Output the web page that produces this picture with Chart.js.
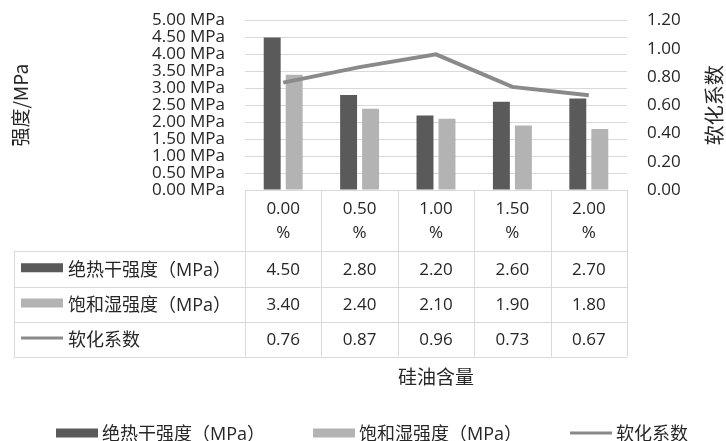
<!DOCTYPE html>
<html>
<head>
<meta charset="utf-8">
<script src="https://cdn.jsdelivr.net/npm/chart.js@4.4.1/dist/chart.umd.min.js"></script>
<style>
  html, body { margin: 0; padding: 0; background: #ffffff; }
  #wrap { width: 726px; height: 441px; }
</style>
</head>
<body>
<div id="wrap"><canvas id="chart" width="726" height="441"></canvas></div>
<script>
// Silicone-oil dosage and the measured strengths / softening coefficient
const categories  = ['0.00%', '0.50%', '1.00%', '1.50%', '2.00%'];
const dryStrength = [4.50, 2.80, 2.20, 2.60, 2.70];
const wetStrength = [3.40, 2.40, 2.10, 1.90, 1.80];
const softening   = [0.76, 0.87, 0.96, 0.73, 0.67];
const seriesNames = ['绝热干强度（MPa）', '饱和湿强度（MPa）', '软化系数'];
const strengthAxis = { min: 0, max: 5, step: 0.5 };
const coefAxis     = { min: 0, max: 1.2, step: 0.2 };
const axisTitles   = { left: '强度/MPa', right: '软化系数', bottom: '硅油含量' };

const TEXT = '#262626';
const GRID = '#d9d9d9';
const LATIN = '"Open Sans", "Noto Sans CJK SC", sans-serif';
const CJK = '"Noto Sans CJK SC", "Open Sans", sans-serif';

function crisp(v) { return Math.round(v) + 0.5; }

function drawKey(ctx, ds, x, y) {
  if (ds.type === 'line') {
    ctx.strokeStyle = ds.borderColor;
    ctx.lineWidth = 3;
    ctx.beginPath();
    ctx.moveTo(x, y);
    ctx.lineTo(x + 42, y);
    ctx.stroke();
  } else {
    ctx.fillStyle = ds.backgroundColor;
    ctx.fillRect(x, y - 4.5, 42, 9);
  }
}

// Data table under the plot, aligned with the category scale
const dataTable = {
  id: 'dataTable',
  afterDraw(chart) {
    const { ctx, chartArea: ca, scales } = chart;
    const xs = scales.x;
    const n = categories.length;
    const half = (ca.right - ca.left) / n / 2;
    const top = ca.bottom;
    const rows = [top + 61, top + 96.5, top + 131.5, top + 166.5];
    const tableLeft = 14;
    const datasets = chart.data.datasets;

    ctx.save();
    ctx.strokeStyle = GRID;
    ctx.lineWidth = 1;
    ctx.beginPath();
    rows.forEach(y => { ctx.moveTo(tableLeft, crisp(y)); ctx.lineTo(ca.right, crisp(y)); });
    ctx.moveTo(crisp(tableLeft), rows[0]);
    ctx.lineTo(crisp(tableLeft), rows[3]);
    for (let i = 0; i <= n; i++) {
      const bx = i < n ? xs.getPixelForValue(i) - half : xs.getPixelForValue(n - 1) + half;
      ctx.moveTo(crisp(bx), top);
      ctx.lineTo(crisp(bx), rows[3]);
    }
    ctx.stroke();

    ctx.fillStyle = TEXT;
    ctx.textAlign = 'center';
    ctx.textBaseline = 'middle';
    ctx.font = '17px ' + LATIN;
    categories.forEach((c, i) => {
      const cx = xs.getPixelForValue(i);
      const parts = c.split('%');
      ctx.fillText(parts[0], cx, top + 19);
      ctx.fillText('%', cx, top + 43);
      datasets.forEach((ds, r) => {
        ctx.fillText(ds.data[i].toFixed(2), cx, (rows[r] + rows[r + 1]) / 2 + 1);
      });
    });

    datasets.forEach((ds, r) => {
      const cy = (rows[r] + rows[r + 1]) / 2;
      drawKey(ctx, ds, 21, cy - 1);
      ctx.fillStyle = TEXT;
      ctx.textAlign = 'left';
      ctx.font = '18px ' + LATIN;
      ctx.fillText(ds.label, 68, cy + 2);
    });

    // bottom axis title
    ctx.textAlign = 'center';
    ctx.font = '19px ' + CJK;
    ctx.fillText(axisTitles.bottom, (ca.left + ca.right) / 2, 377);

    // right axis title, reading bottom to top
    ctx.save();
    ctx.translate(714, (ca.top + ca.bottom) / 2);
    ctx.rotate(-Math.PI / 2);
    ctx.font = '20px ' + CJK;
    ctx.fillText(axisTitles.right, 0, 0);
    ctx.restore();

    // legend row
    ctx.font = '18px ' + LATIN;
    ctx.textAlign = 'left';
    let lx = 56;
    const ly = 433;
    datasets.forEach(ds => {
      drawKey(ctx, ds, lx, ly);
      ctx.fillStyle = TEXT;
      ctx.fillText(ds.label, lx + 46, ly + 2);
      lx += 46 + ctx.measureText(ds.label).width + 48;
    });
    ctx.restore();
  }
};

function fixVertical(width) {
  return scale => {
    scale.width = width;
    scale.paddingTop = 0;
    scale.paddingBottom = 0;
  };
}

new Chart(document.getElementById('chart'), {
  data: {
    labels: categories,
    datasets: [
      {
        type: 'bar', label: seriesNames[0], data: dryStrength, yAxisID: 'y',
        backgroundColor: '#5a5a5a', borderWidth: 0, order: 1,
        categoryPercentage: 0.576, barPercentage: 0.77
      },
      {
        type: 'bar', label: seriesNames[1], data: wetStrength, yAxisID: 'y',
        backgroundColor: '#b3b3b3', borderWidth: 0, order: 1,
        categoryPercentage: 0.576, barPercentage: 0.77
      },
      {
        type: 'line', label: seriesNames[2], data: softening, yAxisID: 'y1',
        borderColor: '#8a8a8a', backgroundColor: '#8a8a8a', borderWidth: 4,
        pointRadius: 0, tension: 0, order: 0
      }
    ]
  },
  options: {
    responsive: false,
    animation: false,
    layout: { padding: { top: 20.5, left: 0, right: 0, bottom: 0 } },
    plugins: { legend: { display: false }, tooltip: { enabled: false } },
    scales: {
      x: {
        offset: true,
        grid: { display: false },
        border: { display: false },
        ticks: { display: false },
        afterFit(scale) { scale.height = 251; scale.paddingLeft = 0; scale.paddingRight = 0; }
      },
      y: {
        position: 'left',
        min: strengthAxis.min, max: strengthAxis.max,
        grid: { color: GRID, drawTicks: false },
        border: { display: false },
        ticks: {
          stepSize: strengthAxis.step, autoSkip: false, padding: 20,
          color: TEXT, font: { family: LATIN, size: 17 },
          callback: v => Number(v).toFixed(2) + ' MPa'
        },
        title: {
          display: true, text: axisTitles.left, color: TEXT,
          font: { family: CJK, size: 19 }, padding: { top: 9, bottom: 0 }
        },
        afterFit: fixVertical(245)
      },
      y1: {
        position: 'right',
        min: coefAxis.min, max: coefAxis.max,
        grid: { display: false, drawTicks: false },
        border: { display: false },
        ticks: {
          stepSize: coefAxis.step, autoSkip: false, padding: 20,
          color: TEXT, font: { family: LATIN, size: 17 },
          callback: v => Number(v).toFixed(2)
        },
        afterFit: fixVertical(99)
      }
    }
  },
  plugins: [dataTable]
});
</script>
</body>
</html>
